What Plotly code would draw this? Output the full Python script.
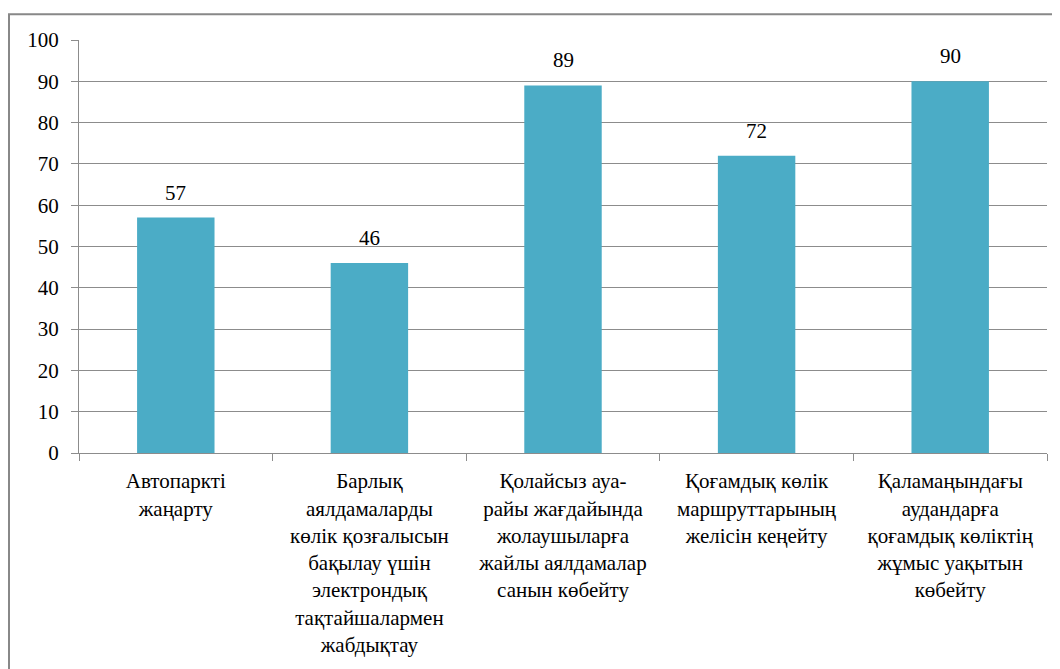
import plotly.graph_objects as go

categories = [
    "Автопаркті<br>жаңарту",
    "Барлық<br>аялдамаларды<br>көлік қозғалысын<br>бақылау үшін<br>электрондық<br>тақтайшалармен<br>жабдықтау",
    "Қолайсыз ауа-<br>райы жағдайында<br>жолаушыларға<br>жайлы аялдамалар<br>санын көбейту",
    "Қоғамдық көлік<br>маршруттарының<br>желісін кеңейту",
    "Қаламаңындағы<br>аудандарға<br>қоғамдық көліктің<br>жұмыс уақытын<br>көбейту",
]
values = [57, 46, 89, 72, 90]
y_ticks = [0, 10, 20, 30, 40, 50, 60, 70, 80, 90, 100]

FONT = "Liberation Serif, Times New Roman, serif"
BAR = "#4BACC6"
GRID = "#8C8C8C"

OFF = 8  # browser body margin
L, R, T, B = 79 - OFF, 1047 - OFF, 40 - OFF, 456 - OFF
W, H = 1060 - OFF, 669 - OFF

fig = go.Figure()
fig.add_trace(go.Bar(
    x=categories, y=values,
    marker=dict(color=BAR, line=dict(width=0)),
    cliponaxis=False,
))
for c, v in zip(categories, values):
    fig.add_annotation(
        x=c, y=v, text=str(v), showarrow=False, yanchor="bottom", yshift=11,
        font=dict(family=FONT, size=21, color="black"),
    )

fig.update_layout(
    width=W, height=H,
    margin=dict(l=L, r=W - R, t=T, b=H - B, pad=0),
    paper_bgcolor="white", plot_bgcolor="white",
    bargap=0.6, showlegend=False,
    font=dict(family=FONT, size=21, color="black"),
)
fig.update_xaxes(
    type="category", tickson="boundaries", ticks="outside", ticklen=7,
    tickcolor=GRID, showline=True, linecolor=GRID, linewidth=1,
    tickfont=dict(family=FONT, size=21, color="black"), tickangle=0,
    ticklabelstandoff=9, showgrid=False,
)
fig.update_yaxes(
    range=[0, 100], tickvals=y_ticks, ticks="outside", ticklen=7,
    tickcolor=GRID, showgrid=True, gridcolor=GRID, gridwidth=1,
    showline=True, linecolor=GRID, linewidth=1, zeroline=False,
    tickfont=dict(family=FONT, size=21, color="black"),
    ticklabelstandoff=8,
)
pw, ph = R - L, B - T
fig.add_shape(
    type="rect", xref="paper", yref="paper",
    x0=(9 - OFF - L) / pw, x1=(1080 - L) / pw,
    y0=(B - 700) / ph, y1=(B - (14 - OFF)) / ph,
    line=dict(color="#888888", width=2), fillcolor="rgba(0,0,0,0)", layer="below",
)
fig.write_html("out.html")
